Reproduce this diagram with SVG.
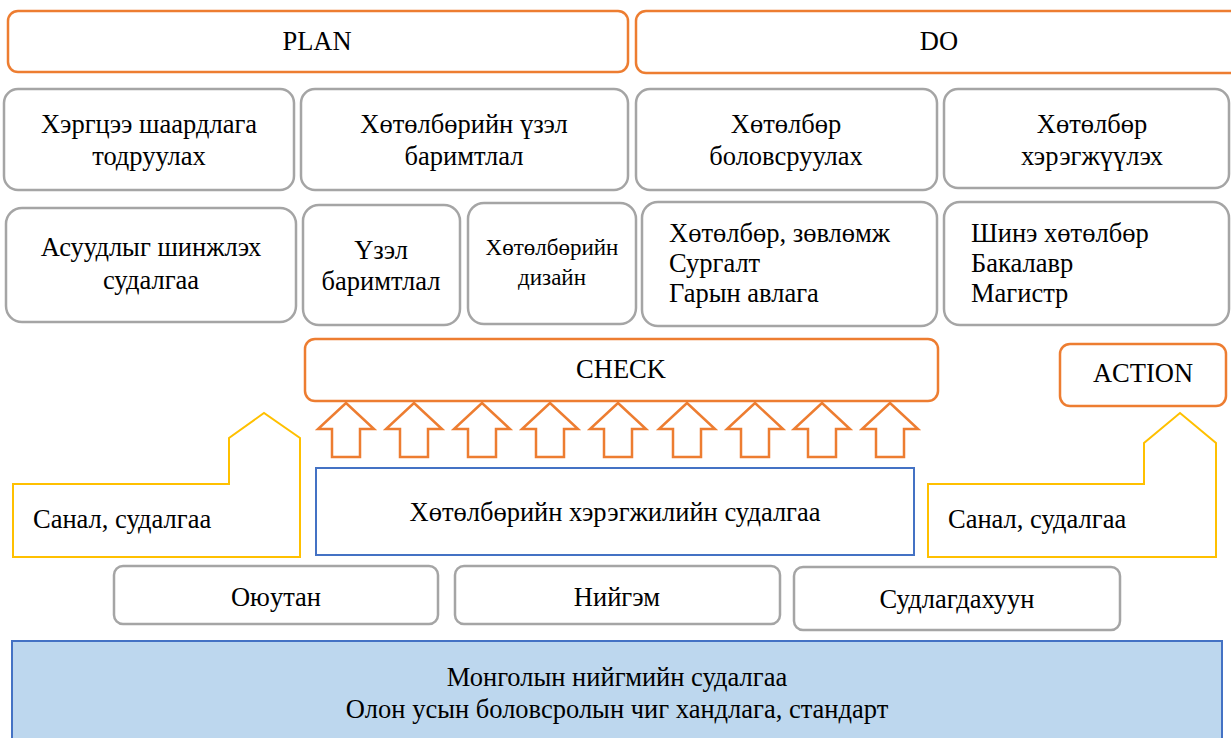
<svg xmlns="http://www.w3.org/2000/svg" width="1231" height="738" viewBox="0 0 1231 738">
<defs>
<path id="up" d="M0,0 L28,26 L14,26 L14,54 L-14,54 L-14,26 L-28,26 Z" fill="#fff" stroke="#ED7D31" stroke-width="2.5"/>
</defs>
<rect width="1231" height="738" fill="#fff"/>
<g id="plan"><rect fill="#fff" stroke="#ED7D31" stroke-width="2.5" x="8" y="11" width="620" height="61" rx="10"/><text font-family="Liberation Serif" font-size="26.5" text-anchor="middle" x="317" y="50">PLAN</text></g>
<g id="do"><rect fill="#fff" stroke="#ED7D31" stroke-width="2.5" x="636" y="11" width="605" height="62" rx="10"/><text font-family="Liberation Serif" font-size="26.5" text-anchor="middle" x="939" y="50">DO</text></g>
<g id="need"><rect fill="#fff" stroke="#A5A5A5" stroke-width="2.5" x="4" y="89" width="290" height="101" rx="14"/><text font-family="Liberation Serif" font-size="26.5" text-anchor="middle" x="149" y="133">Хэргцээ шаардлага</text><text font-family="Liberation Serif" font-size="26.5" text-anchor="middle" x="149" y="165">тодруулах</text></g>
<g id="principle"><rect fill="#fff" stroke="#A5A5A5" stroke-width="2.5" x="301" y="89" width="327" height="101" rx="14"/><text font-family="Liberation Serif" font-size="26.5" text-anchor="middle" x="464" y="133">Хөтөлбөрийн үзэл</text><text font-family="Liberation Serif" font-size="26.5" text-anchor="middle" x="464" y="165">баримтлал</text></g>
<g id="develop"><rect fill="#fff" stroke="#A5A5A5" stroke-width="2.5" x="636" y="89" width="301" height="101" rx="14"/><text font-family="Liberation Serif" font-size="26.5" text-anchor="middle" x="786" y="133">Хөтөлбөр</text><text font-family="Liberation Serif" font-size="26.5" text-anchor="middle" x="786" y="165">боловсруулах</text></g>
<g id="implement"><rect fill="#fff" stroke="#A5A5A5" stroke-width="2.5" x="944" y="89" width="285" height="99" rx="14"/><text font-family="Liberation Serif" font-size="26.5" text-anchor="middle" x="1092" y="133">Хөтөлбөр</text><text font-family="Liberation Serif" font-size="26.5" text-anchor="middle" x="1092" y="165">хэрэгжүүлэх</text></g>
<g id="analysis"><rect fill="#fff" stroke="#A5A5A5" stroke-width="2.5" x="6" y="208" width="290" height="114" rx="16"/><text font-family="Liberation Serif" font-size="26.5" text-anchor="middle" x="151" y="256">Асуудлыг шинжлэх</text><text font-family="Liberation Serif" font-size="26.5" text-anchor="middle" x="151" y="289">судалгаа</text></g>
<g id="view"><rect fill="#fff" stroke="#A5A5A5" stroke-width="2.5" x="303" y="205" width="157" height="120" rx="16"/><text font-family="Liberation Serif" font-size="26.5" text-anchor="middle" x="381" y="259">Үзэл</text><text font-family="Liberation Serif" font-size="26.5" text-anchor="middle" x="381" y="290">баримтлал</text></g>
<g id="design"><rect fill="#fff" stroke="#A5A5A5" stroke-width="2.5" x="468" y="203" width="168" height="121" rx="16"/><text font-family="Liberation Serif" font-size="23" text-anchor="middle" x="552" y="255">Хөтөлбөрийн</text><text font-family="Liberation Serif" font-size="23" text-anchor="middle" x="552" y="285">дизайн</text></g>
<g id="outputs"><rect fill="#fff" stroke="#A5A5A5" stroke-width="2.5" x="642" y="202" width="295" height="124" rx="16"/><text font-family="Liberation Serif" font-size="26.5" x="669" y="242">Хөтөлбөр, зөвлөмж</text><text font-family="Liberation Serif" font-size="26.5" x="669" y="272">Сургалт</text><text font-family="Liberation Serif" font-size="26.5" x="669" y="302">Гарын авлага</text></g>
<g id="programs"><rect fill="#fff" stroke="#A5A5A5" stroke-width="2.5" x="944" y="202" width="285" height="123" rx="16"/><text font-family="Liberation Serif" font-size="26.5" x="971" y="242">Шинэ хөтөлбөр</text><text font-family="Liberation Serif" font-size="26.5" x="971" y="272">Бакалавр</text><text font-family="Liberation Serif" font-size="26.5" x="971" y="302">Магистр</text></g>
<g id="check"><rect fill="#fff" stroke="#ED7D31" stroke-width="2.5" x="305" y="339" width="633" height="62" rx="10"/><text font-family="Liberation Serif" font-size="26.5" text-anchor="middle" x="621" y="378">CHECK</text></g>
<g id="action"><rect fill="#fff" stroke="#ED7D31" stroke-width="2.5" x="1060" y="344" width="166" height="62" rx="10"/><text font-family="Liberation Serif" font-size="26.5" text-anchor="middle" x="1143" y="382">ACTION</text></g>
<g id="connectors">
<use href="#up" x="346" y="403"/>
<use href="#up" x="414" y="403"/>
<use href="#up" x="482" y="403"/>
<use href="#up" x="550" y="403"/>
<use href="#up" x="618" y="403"/>
<use href="#up" x="687" y="403"/>
<use href="#up" x="755" y="403"/>
<use href="#up" x="822" y="403"/>
<use href="#up" x="890" y="403"/>
</g>
<g id="feedback-left"><path fill="#fff" stroke="#FFC000" stroke-width="2" d="M13,557 L13,484 L229,484 L229,438 L264,413 L300,438 L300,557 Z"/><text font-family="Liberation Serif" font-size="26.5" x="33" y="528">Санал, судалгаа</text></g>
<g id="research"><rect fill="#fff" stroke="#4472C4" stroke-width="2" x="316" y="468" width="598" height="87"/><text font-family="Liberation Serif" font-size="26.5" text-anchor="middle" x="615" y="521">Хөтөлбөрийн хэрэгжилийн судалгаа</text></g>
<g id="feedback-right"><path fill="#fff" stroke="#FFC000" stroke-width="2" d="M928,557 L928,484 L1144,484 L1144,443 L1180,413 L1216,443 L1216,557 Z"/><text font-family="Liberation Serif" font-size="26.5" x="948" y="528">Санал, судалгаа</text></g>
<g id="student"><rect fill="#fff" stroke="#A5A5A5" stroke-width="2.5" x="114" y="566" width="324" height="58" rx="9"/><text font-family="Liberation Serif" font-size="26.5" text-anchor="middle" x="276" y="606">Оюутан</text></g>
<g id="society"><rect fill="#fff" stroke="#A5A5A5" stroke-width="2.5" x="455" y="566" width="325" height="58" rx="9"/><text font-family="Liberation Serif" font-size="26.5" text-anchor="middle" x="617" y="606">Нийгэм</text></g>
<g id="researched"><rect fill="#fff" stroke="#A5A5A5" stroke-width="2.5" x="794" y="567" width="326" height="63" rx="9"/><text font-family="Liberation Serif" font-size="26.5" text-anchor="middle" x="957" y="608">Судлагдахуун</text></g>
<g id="base"><rect x="12" y="641" width="1210" height="110" fill="#BDD7EE" stroke="#4472C4" stroke-width="2"/><text font-family="Liberation Serif" font-size="26.5" text-anchor="middle" x="617" y="686">Монголын нийгмийн судалгаа</text><text font-family="Liberation Serif" font-size="26.5" text-anchor="middle" x="617" y="718">Олон усын боловсролын чиг хандлага, стандарт</text></g>
</svg>
